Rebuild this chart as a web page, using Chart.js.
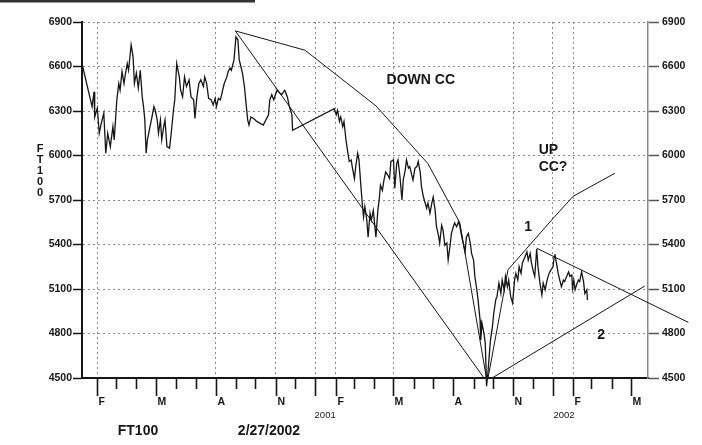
<!DOCTYPE html>
<html>
<head>
<meta charset="utf-8">
<script src="https://cdn.jsdelivr.net/npm/chart.js@4.4.1/dist/chart.umd.min.js"></script>
<style>
  html, body { margin: 0; padding: 0; background: #fff; }
  #wrap { width: 702px; height: 445px; }
</style>
</head>
<body>
<div id="wrap"><canvas id="ftChart" width="702" height="445"></canvas></div>
<script>
// x values are days counted from 1 Jan 2000
var xMin = 7.5;
var xMax = 877;

// month starts shown on the time axis
var monthDays = [31, 60, 91, 121, 152, 182, 213, 244, 274, 305, 335,
                 366, 397, 425, 456, 486, 517, 547, 578, 609, 639, 670, 700,
                 731, 762, 790, 821, 851];
var monthLetters = { 31: 'F', 121: 'M', 213: 'A', 305: 'N',
                     397: 'F', 486: 'M', 578: 'A', 670: 'N',
                     762: 'F', 851: 'M' };
var yearStarts = [366, 731];
var gridDays = [31, 213, 305, 366, 397, 486, 670, 731, 762];
var yearLabels = ['2001', '2002'];
var yearLabelDays = [381, 748];

var yTicks = [4500, 4800, 5100, 5400, 5700, 6000, 6300, 6600, 6900];

// FT100 closes [day, value]
var pricePoints = [
  [8,6610],[23,6330],[26,6430],[27,6260],[31,6320],[34,6150],[37,6215],[41,6285],
  [44,6015],[47,6150],[51,6060],[55,6195],[57,6105],[59,6240],[61,6375],[64,6485],
  [66,6440],[69,6565],[72,6485],[74,6545],[77,6620],[79,6575],[83,6745],[86,6665],
  [88,6485],[91,6555],[94,6455],[97,6575],[100,6395],[102,6330],[104,6240],[106,6015],
  [108,6105],[112,6195],[115,6260],[118,6330],[120,6305],[123,6240],[125,6150],[128,6240],
  [130,6105],[133,6195],[135,6240],[138,6060],[142,6050],[145,6170],[148,6305],[150,6375],
  [153,6620],[157,6530],[159,6440],[162,6395],[165,6530],[168,6465],[172,6510],[175,6395],
  [179,6375],[181,6250],[184,6395],[187,6485],[190,6510],[194,6465],[196,6530],[199,6485],
  [202,6385],[206,6375],[209,6340],[212,6385],[214,6330],[217,6385],[220,6375],[222,6410],
  [226,6485],[230,6530],[232,6565],[235,6590],[237,6575],[241,6645],[244,6800],[247,6780],
  [249,6645],[251,6610],[254,6555],[257,6465],[259,6375],[262,6240],[264,6205],[267,6260],
  [271,6250],[276,6230],[286,6205],[294,6275],[296,6375],[299,6410],[302,6375],[307,6440],
  [314,6410],[319,6440],[323,6395],[326,6330],[330,6275],[331,6170],
  [395,6315],[398,6275],[400,6305],[403,6230],[405,6260],[408,6195],[410,6230],[413,6105],
  [416,6015],[418,5960],[421,5970],[423,5915],[426,5845],[428,5925],[431,6015],[433,5970],
  [436,5790],[438,5680],[440,5585],[442,5655],[445,5565],[447,5450],[450,5610],[452,5565],
  [455,5630],[459,5450],[462,5630],[464,5700],[466,5800],[469,5765],[471,5825],[474,5890],
  [477,5870],[480,5845],[482,5960],[486,5970],[488,5780],[491,5945],[493,5970],[496,5855],
  [499,5700],[501,5835],[504,5900],[506,5970],[509,5915],[511,5925],[514,5870],[516,5835],
  [519,5915],[522,5925],[524,5960],[527,5890],[529,5790],[532,5720],[534,5690],[537,5645],
  [539,5680],[542,5610],[545,5680],[547,5720],[550,5630],[552,5520],[555,5465],[557,5410],
  [560,5530],[562,5500],[565,5395],[568,5410],[570,5295],[573,5395],[575,5475],[578,5520],
  [580,5545],[583,5520],[586,5555],[588,5520],[591,5450],[593,5410],[596,5350],[598,5450],
  [601,5475],[604,5410],[606,5340],[609,5295],[611,5185],[614,5095],[616,5025],[619,4890],
  [620,4755],[622,4870],[625,4800],[627,4735],[629,4445],[631,4530],[633,4645],[635,4755],
  [638,4845],[640,4935],[643,5025],[645,5050],[648,5140],[651,5070],[653,5160],[656,5095],
  [658,5185],[661,5115],[663,5160],[666,5050],[669,5005],[672,5160],[674,5205],[677,5160],
  [679,5250],[682,5205],[684,5275],[687,5305],[691,5350],[693,5295],[696,5340],[698,5275],
  [701,5215],[703,5185],[706,5370],[708,5250],[711,5140],[714,5060],[716,5140],[719,5095],
  [722,5160],[725,5205],[728,5230],[731,5250],[733,5320],[734,5335],[737,5260],[739,5205],
  [742,5150],[744,5115],[747,5160],[749,5150],[752,5185],[755,5215],[757,5185],[760,5195],
  [761,5105],[763,5160],[765,5095],[767,5125],[770,5160],[772,5150],[775,5215],[778,5150],
  [780,5070],[783,5095],[784,5025]
];

// hand drawn trend lines
var downLine = [[243,6840],[630,4470]];
var downChannel = [[243,6840],[350,6710],[459,6335],[539,5945],[588,5545],[630,4470]];
var upChannel = [[630,4470],[662,5230],[731,5575],[762,5725],[826,5880]];
var supportLine = [[630,4480],[872,5120]];
var resistLine = [[706,5375],[939,4875]];

// text notes [text, day, value, align]
var notes = [
  ['DOWN CC', 528, 6510, 'center'],
  ['UP', 709, 6035, 'left'],
  ['CC?', 709, 5920, 'left'],
  ['1', 693, 5520, 'center'],
  ['2', 805, 4790, 'center']
];

var ink = '#161616';
var gridGrey = '#8c8c8c';
var fontName = '"Liberation Sans", Arial, sans-serif';

function toXY(arr) {
  return arr.map(function (p) { return { x: p[0], y: p[1] }; });
}

function lineSet(arr, width, clip) {
  return {
    data: toXY(arr),
    borderColor: ink,
    borderWidth: width,
    pointRadius: 0,
    tension: 0,
    clip: clip
  };
}

var decorPlugin = {
  id: 'decor',
  afterDraw: function (chart) {
    var ctx = chart.ctx;
    var xs = chart.scales.x;
    var ys = chart.scales.y;
    var base = chart.chartArea.bottom;
    ctx.save();

    // month tick marks and letters
    ctx.strokeStyle = ink;
    ctx.lineWidth = 1.6;
    ctx.fillStyle = ink;
    ctx.textBaseline = 'middle';
    ctx.textAlign = 'left';
    ctx.font = 'bold 10.5px ' + fontName;
    monthDays.forEach(function (d) {
      var px = Math.round(xs.getPixelForValue(d)) + 0.5;
      var long = monthLetters[d] || yearStarts.indexOf(d) >= 0;
      ctx.beginPath();
      ctx.moveTo(px, base);
      ctx.lineTo(px, base + (long ? 18 : 11));
      ctx.stroke();
      if (monthLetters[d]) ctx.fillText(monthLetters[d], px + 1, 402);
    });

    // year labels
    ctx.font = '9.5px ' + fontName;
    ctx.textAlign = 'center';
    yearLabels.forEach(function (t, i) {
      ctx.fillText(t, xs.getPixelForValue(yearLabelDays[i]), 415);
    });

    // notes on the chart
    ctx.font = 'bold 14px ' + fontName;
    notes.forEach(function (n) {
      ctx.textAlign = n[3];
      ctx.fillText(n[0], xs.getPixelForValue(n[1]), ys.getPixelForValue(n[2]));
    });

    // stacked axis name
    ctx.font = 'bold 11px ' + fontName;
    ctx.textAlign = 'center';
    ['F', 'T', '1', '0', '0'].forEach(function (c, i) {
      ctx.fillText(c, 40, 149 + i * 11);
    });

    // footer
    ctx.font = 'bold 14px ' + fontName;
    ctx.fillText('FT100', 138, 431);
    ctx.fillText('2/27/2002', 269, 431);

    // rule at top left
    ctx.fillStyle = '#333';
    ctx.fillRect(0, 0, 255, 2.5);
    ctx.restore();
  }
};

new Chart(document.getElementById('ftChart').getContext('2d'), {
  type: 'line',
  data: {
    datasets: [
      lineSet(pricePoints, 1.3, false),
      lineSet(downLine, 1, true),
      lineSet(downChannel, 1, true),
      lineSet(upChannel, 1, true),
      lineSet(supportLine, 1, true),
      lineSet(resistLine, 1, false)
    ]
  },
  options: {
    responsive: false,
    animation: false,
    devicePixelRatio: 1,
    layout: { padding: { top: 22, left: 0, right: 0, bottom: 0 } },
    plugins: {
      legend: { display: false },
      tooltip: { enabled: false }
    },
    scales: {
      x: {
        type: 'linear',
        min: xMin,
        max: xMax,
        afterBuildTicks: function (s) {
          s.ticks = gridDays.map(function (d) { return { value: d }; });
        },
        afterFit: function (s) { s.height = 67; },
        ticks: { display: false },
        grid: { drawTicks: false, lineWidth: 1, color: gridGrey },
        border: { color: ink, width: 2, dash: [2, 3] }
      },
      y: {
        position: 'left',
        min: 4500,
        max: 6900,
        afterBuildTicks: function (s) {
          s.ticks = yTicks.map(function (v) { return { value: v }; });
        },
        afterFit: function (s) { s.width = 82; },
        ticks: {
          padding: 1,
          color: ink,
          font: { family: fontName, size: 10.5, weight: 'bold' },
          callback: function (v) { return String(v); }
        },
        grid: {
          tickLength: 9,
          tickColor: ink,
          tickWidth: 1.5,
          tickBorderDash: [],
          color: function (c) {
            return c.tick && c.tick.value === 4500 ? 'transparent' : gridGrey;
          }
        },
        border: { color: ink, width: 2, dash: [2, 3] }
      },
      y2: {
        position: 'right',
        min: 4500,
        max: 6900,
        afterBuildTicks: function (s) {
          s.ticks = yTicks.map(function (v) { return { value: v }; });
        },
        afterFit: function (s) { s.width = 54; },
        ticks: {
          padding: 3,
          color: ink,
          font: { family: fontName, size: 10.5, weight: 'bold' },
          callback: function (v) { return String(v); }
        },
        grid: {
          drawOnChartArea: false,
          tickLength: 11,
          tickColor: '#555',
          tickWidth: 1.5
        },
        border: { color: '#8a8a8a', width: 1.5 }
      }
    }
  },
  plugins: [decorPlugin]
});
</script>
</body>
</html>
